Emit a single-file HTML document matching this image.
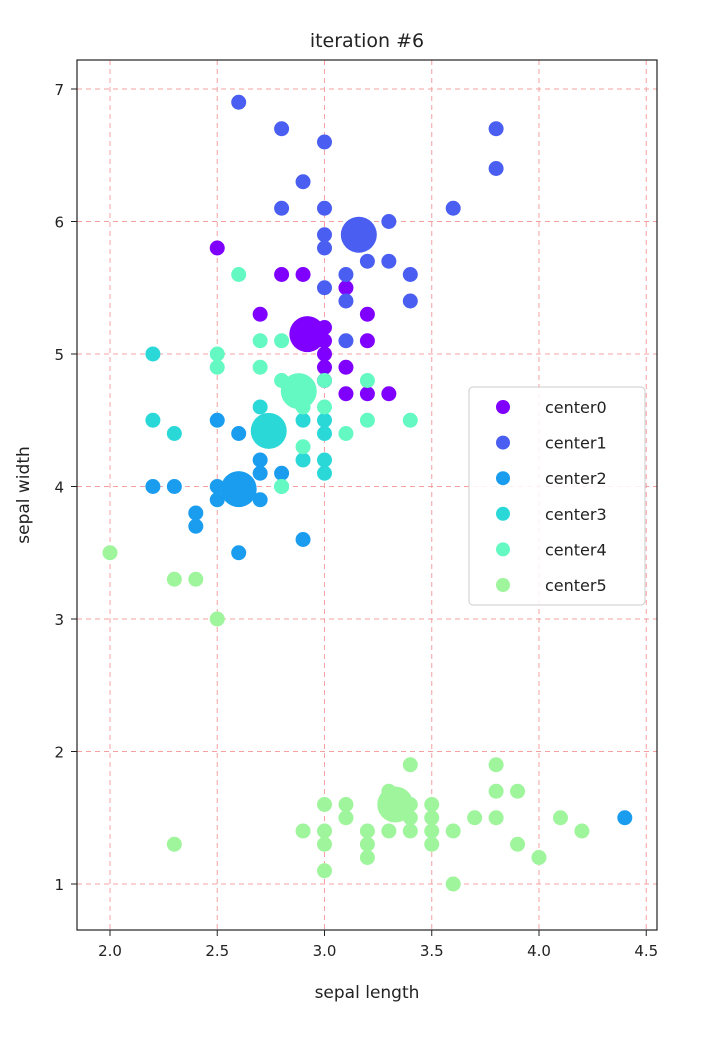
<!DOCTYPE html>
<html><head><meta charset="utf-8"><style>
body{margin:0;background:#fff;width:710px;height:1036px;overflow:hidden}
svg text{font-family:"DejaVu Sans","Liberation Sans",sans-serif;fill:#222}
</style></head><body>
<svg id="chart" width="710" height="1036" xmlns="http://www.w3.org/2000/svg">
<g id="grid"></g>
<g id="pts"></g>
<rect x="77" y="60" width="580" height="870" fill="none" stroke="#222" stroke-width="1.2"/>
<g id="ticks"></g>
<text x="367" y="47" font-size="19" text-anchor="middle">iteration #6</text>
<text x="367" y="998" font-size="17" text-anchor="middle">sepal length</text>
<text transform="translate(29,495) rotate(-90)" font-size="17" text-anchor="middle">sepal width</text>
<g id="legend"></g>
</svg>
<script>
const xTicks=[2.0,2.5,3.0,3.5,4.0,4.5];
const yTicks=[1,2,3,4,5,6,7];
const seriesNames=["center0","center1","center2","center3","center4","center5"];
const colors=["#8000ff","#4a5ef2","#1a9cef","#2bd8d8","#64f9c2","#9ff59c"];
const c0=[[2.5,5.8],[2.8,5.6],[2.9,5.6],[2.7,5.3],[3.1,5.5],[3.2,5.3],[3.2,5.1],[3.1,4.9],[3.0,5.0],[3.0,5.2],[3.0,4.9],[3.0,5.1],[3.1,4.7],[3.2,4.7],[3.3,4.7],[3.0,4.8]];
const c1=[[2.6,6.9],[2.8,6.7],[3.0,6.6],[2.9,6.3],[2.8,6.1],[3.0,6.1],[3.3,6.0],[3.0,5.9],[3.0,5.8],[3.2,5.7],[3.3,5.7],[3.1,5.6],[3.4,5.6],[3.0,5.5],[3.1,5.4],[3.4,5.4],[3.8,6.7],[3.8,6.4],[3.6,6.1],[3.1,5.1]];
const c2=[[2.2,4.0],[2.3,4.0],[2.5,4.5],[2.6,4.4],[2.7,3.9],[2.5,3.9],[2.4,3.8],[2.4,3.7],[2.6,3.5],[2.9,3.6],[2.7,4.1],[2.7,4.2],[2.8,4.1],[2.5,4.0],[2.6,4.0],[4.4,1.5]];
const c3=[[2.2,5.0],[2.2,4.5],[2.3,4.4],[2.7,4.6],[2.9,4.5],[3.0,4.5],[3.0,4.4],[3.0,4.2],[3.0,4.1],[2.8,4.0],[2.9,4.2]];
const c4=[[2.6,5.6],[2.5,5.0],[2.5,4.9],[2.7,5.1],[2.8,5.1],[2.7,4.9],[2.8,4.8],[3.0,4.8],[3.2,4.8],[3.2,4.5],[3.4,4.5],[3.1,4.4],[2.9,4.3],[2.9,4.6],[2.8,4.0],[3.0,4.6]];
const c5=[[2.0,3.5],[2.3,3.3],[2.4,3.3],[2.5,3.0],[2.3,1.3],[2.9,1.4],[3.0,1.6],[3.0,1.4],[3.0,1.3],[3.0,1.1],[3.1,1.6],[3.1,1.5],[3.2,1.4],[3.2,1.3],[3.2,1.2],[3.3,1.7],[3.3,1.4],[3.4,1.9],[3.4,1.6],[3.4,1.4],[3.4,1.5],[3.5,1.6],[3.5,1.5],[3.5,1.4],[3.5,1.3],[3.6,1.4],[3.6,1.0],[3.7,1.5],[3.8,1.9],[3.8,1.7],[3.8,1.5],[3.9,1.7],[3.9,1.3],[4.0,1.2],[4.1,1.5],[4.2,1.4]];
const centers=[[2.92,5.15],[3.16,5.9],[2.6,3.98],[2.74,4.42],[2.88,4.72],[3.33,1.6]];
const allSeries=[c0,c1,c2,c3,c4,c5];
const NS="http://www.w3.org/2000/svg";
function X(v){return 110+(v-2)*214.5;}
function Y(v){return 884-(v-1)*132.5;}
function mk(t,a,p){const e=document.createElementNS(NS,t);for(const k in a)e.setAttribute(k,a[k]);p.appendChild(e);return e;}
const grid=document.getElementById('grid'),ticks=document.getElementById('ticks'),pts=document.getElementById('pts'),leg=document.getElementById('legend');
xTicks.forEach(v=>{
 const l=mk('line',{x1:X(v),x2:X(v),y1:60,y2:930,stroke:'#f4a0a0','stroke-width':1,'stroke-dasharray':'5,4'},grid);
 
 
 const t=mk('line',{x1:X(v),x2:X(v),y1:930,y2:936,stroke:'#222'},ticks);
 
 
 const s=mk('text',{x:X(v),y:956,'font-size':15,'text-anchor':'middle'},ticks);s.textContent=v.toFixed(1);
 
 
});
yTicks.forEach(v=>{
 const l=mk('line',{x1:77,x2:657,y1:Y(v),y2:Y(v),stroke:'#f4a0a0','stroke-width':1,'stroke-dasharray':'5,4'},grid);
 
 
 const t=mk('line',{x1:71,x2:77,y1:Y(v),y2:Y(v),stroke:'#222'},ticks);
 
 
 const s=mk('text',{x:64,y:Y(v)+6,'font-size':15,'text-anchor':'end'},ticks);s.textContent=v;
 
 
});
allSeries.forEach((arr,i)=>{
 arr.forEach(p=>{
  const c=mk('circle',{cx:X(p[0]),cy:Y(p[1]),r:7.5,fill:colors[i]},pts);
  
  
 });
});
centers.forEach((p,i)=>{
 const c=mk('circle',{cx:X(p[0]),cy:Y(p[1]),r:18,fill:colors[i]},pts);
 
 
});
const box=mk('rect',{x:469,y:387,width:176,height:218,rx:4,fill:'#fff','fill-opacity':0.85,stroke:'#ccc'},leg);


seriesNames.forEach((n,i)=>{
 const y=407+i*35.6;
 const c=mk('circle',{cx:503,cy:y,r:7,fill:colors[i]},leg);
 
 
 const t=mk('text',{x:545,y:y+6,'font-size':16},leg);t.textContent=n;
 
 
});
</script>
</body></html>
